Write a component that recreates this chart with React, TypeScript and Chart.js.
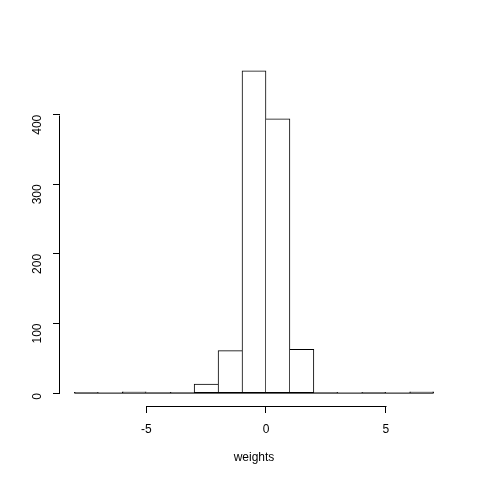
import React, { useEffect, useRef } from "react";
import { Chart, registerables } from "chart.js";

Chart.register(...registerables);

const binStarts = [-8, -7, -6, -5, -4, -3, -2, -1, 0, 1, 2, 3, 4, 5, 6];
const binWidth = 1;
const counts = [1, 0, 2, 1, 1, 13, 61, 463, 394, 63, 1, 0, 1, 0, 2];
const xTicks = [-5, 0, 5];
const yTicks = [0, 100, 200, 300, 400];
const xLabel = "weights";

const FONT = "'Liberation Sans', Arial, Helvetica, sans-serif";

const axisLinePlugin = {
  id: "rAxisLines",
  afterDraw(chart: any) {
    const ctx = chart.ctx;
    const xs = chart.scales.x;
    const ys = chart.scales.y;
    ctx.save();
    ctx.strokeStyle = "#000";
    ctx.lineWidth = 1;
    ctx.beginPath();
    const xa = Math.round(xs.getPixelForValue(xTicks[0])) + 0.5;
    const xb = Math.round(xs.getPixelForValue(xTicks[xTicks.length - 1])) + 0.5;
    const xy = Math.round(xs.top) + 0.5;
    ctx.moveTo(xa, xy);
    ctx.lineTo(xb, xy);
    const ya = Math.round(ys.getPixelForValue(yTicks[0])) + 0.5;
    const yb = Math.round(ys.getPixelForValue(yTicks[yTicks.length - 1])) + 0.5;
    const yx = Math.round(ys.right) - 0.5;
    ctx.moveTo(yx, ya);
    ctx.lineTo(yx, yb);
    ctx.stroke();
    ctx.restore();
  },
};

export default function App() {
  const ref = useRef<HTMLCanvasElement>(null);
  useEffect(() => {
    const lo = binStarts[0];
    const hi = binStarts[binStarts.length - 1] + binWidth;
    const xr = hi - lo;
    const ymax = Math.max(...counts);
    const chart = new Chart(ref.current as HTMLCanvasElement, {
      type: "bar",
      data: {
        datasets: [
          {
            type: "bar",
            data: binStarts.map((s, i) => ({ x: s + binWidth / 2, y: counts[i] })),
            backgroundColor: "#ffffff",
            borderColor: "#000000",
            borderSkipped: false,
            barPercentage: 1,
            categoryPercentage: 1,
            borderWidth: (c: any) => {
              const i = c.dataIndex;
              const h = counts[i];
              const prev = i > 0 ? counts[i - 1] : 0;
              const next = i < counts.length - 1 ? counts[i + 1] : 0;
              return { top: 1, bottom: 1, left: h >= prev ? 1 : 0, right: h > next ? 1 : 0 };
            },
            order: 2,
          } as any,
          {
            type: "line",
            data: [
              { x: lo, y: 0 },
              { x: hi, y: 0 },
            ],
            borderColor: "#000000",
            borderWidth: 1,
            pointRadius: 0,
            order: 1,
          } as any,
        ],
      },
      options: {
        animation: false,
        responsive: false,
        maintainAspectRatio: false,
        layout: { padding: { left: 0, top: 58, right: 32, bottom: 0 } },
        plugins: { legend: { display: false }, tooltip: { enabled: false } },
        scales: {
          x: {
            type: "linear",
            offset: false,
            min: lo - 0.04 * xr,
            max: hi + 0.04 * xr,
            afterFit: (s: any) => {
              s.height = 74;
            },
            afterBuildTicks: (s: any) => {
              s.ticks = xTicks.map((v) => ({ value: v }));
            },
            ticks: {
              includeBounds: false,
              color: "#000",
              padding: 9,
              maxRotation: 0,
              font: { family: FONT, size: 12 },
            },
            grid: { offset: false, drawOnChartArea: false, drawTicks: true, tickLength: 7, color: "#000" },
            border: { display: false },
            title: {
              display: true,
              text: xLabel,
              color: "#000",
              font: { family: FONT, size: 12 },
              padding: { top: 0, bottom: 15 },
            },
          },
          y: {
            type: "linear",
            min: -0.04 * ymax,
            max: ymax * 1.04,
            afterFit: (s: any) => {
              s.width = 60;
            },
            afterBuildTicks: (s: any) => {
              s.ticks = yTicks.map((v) => ({ value: v }));
            },
            ticks: {
              includeBounds: false,
              color: "#000",
              padding: 15,
              minRotation: 90,
              maxRotation: 90,
              font: { family: FONT, size: 12 },
            },
            grid: { offset: false, drawOnChartArea: false, drawTicks: true, tickLength: 7, color: "#000" },
            border: { display: false },
          },
        },
      },
      plugins: [axisLinePlugin],
    });
    return () => chart.destroy();
  }, []);
  return (
    <div style={{ position: "fixed", left: 0, top: 0, width: 480, height: 480, background: "#fff" }}>
      <canvas ref={ref} width={480} height={480} style={{ width: 480, height: 480 }} />
    </div>
  );
}
